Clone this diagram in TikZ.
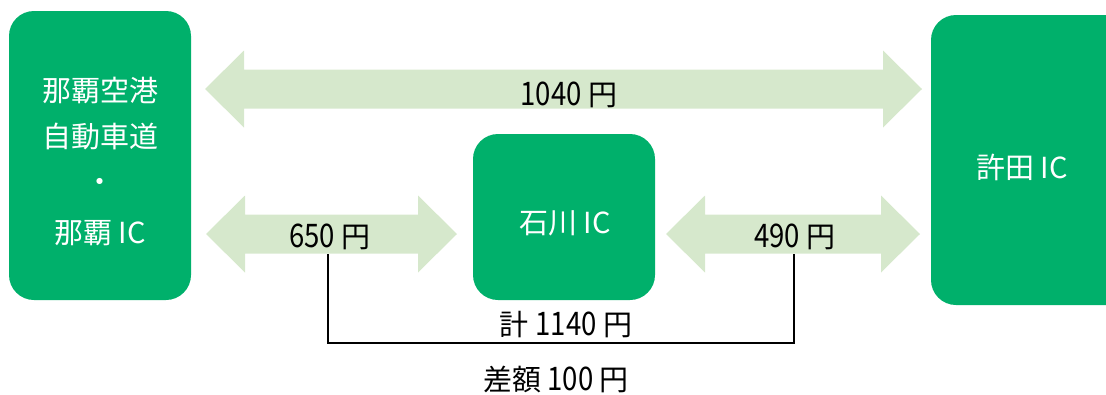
\documentclass[tikz,border=0pt]{standalone}
\usepackage{fontspec}
\setmainfont{Noto Sans CJK JP}
\usetikzlibrary{calc}
\definecolor{boxgreen}{RGB}{0,176,107}
\definecolor{arrowgreen}{RGB}{214,232,204}
\tikzset{
  icbox/.style={fill=boxgreen, draw=none, rounded corners=25pt},
  icname/.style={text=white, font=\fontsize{29}{34}\selectfont, inner sep=0pt, anchor=center},
  price/.style={text=black, font=\fontsize{29}{34}\selectfont, inner sep=0pt, anchor=center},
  bararrow/.style={fill=arrowgreen, draw=none},
  bracket/.style={draw=black, line width=1.4pt}
}
\newcommand{\dblarrow}[3]{% x-left tip, x-right tip, y-centre
  \fill[bararrow] (#1,#3) -- (#1+39,#3-38.5) -- (#1+39,#3-19.5) -- (#2-39,#3-19.5)
    -- (#2-39,#3-38.5) -- (#2,#3) -- (#2-39,#3+38.5) -- (#2-39,#3+19.5)
    -- (#1+39,#3+19.5) -- (#1+39,#3+38.5) -- cycle;}
\newcommand{\tallnum}[1]{\scalebox{0.95}[1.12]{#1}}
\begin{document}
\begin{tikzpicture}[x=1pt,y=-1pt]
\useasboundingbox (0,0) rectangle (1106,394);
\clip (0,0) rectangle (1106,394);
% boxes
\fill[icbox] (9,11) rectangle (191,300);
\fill[icbox] (473,134) rectangle (655,300);
\fill[icbox] (931,15) rectangle (1132,305);
% arrows
\dblarrow{205}{922}{89}
\dblarrow{206}{457}{234}
\dblarrow{666}{920}{234}
% box labels
\node[icname] (naha1) at (100,90) {那覇空港};
\node[icname] (naha2) at (100,137) {自動車道};
\node[icname] (naha3) at (100,185) {・};
\node[icname] (naha4) at (100,233) {那覇 IC};
\node[icname] (ishikawa) at (565,223) {石川 IC};
\node[icname] (kyoda) at (1022,167) {許田 IC};
% prices
\node[price] (p1040) at (569,95) {\tallnum{1040} 円};
\node[price] (p650) at (330,237) {\tallnum{650} 円};
\node[price] (p490) at (795,237) {\tallnum{490} 円};
\node[price] (total) at (566,325) {計 \tallnum{1140} 円};
\node[price] (diff) at (556,379) {差額 \tallnum{100} 円};
% bracket
\coordinate (bl) at (328,343);
\coordinate (br) at (794,343);
\coordinate (tl) at (328,254);
\coordinate (tr) at (794,254);
\draw[bracket] (tl) -- (bl) -- (br) -- (tr);
\end{tikzpicture}
\end{document}
